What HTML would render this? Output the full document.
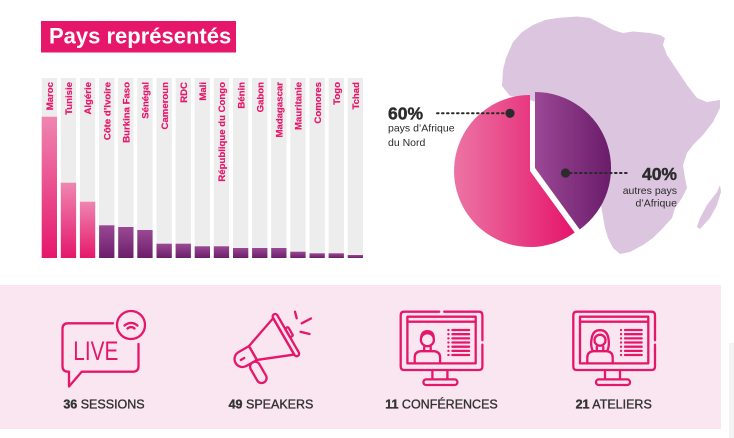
<!DOCTYPE html>
<html><head><meta charset="utf-8"><style>
html,body{margin:0;padding:0;background:#fff;}
svg{display:block;}
text{font-family:"Liberation Sans",sans-serif;}
</style></head><body>
<svg width="734" height="438" viewBox="0 0 734 438" xmlns="http://www.w3.org/2000/svg">
<defs>
<linearGradient id="gp" x1="0" y1="0" x2="0" y2="1"><stop offset="0" stop-color="#ef86b1"/><stop offset="1" stop-color="#e5176b"/></linearGradient>
<linearGradient id="gv" x1="0" y1="0" x2="0" y2="1"><stop offset="0" stop-color="#9a4894"/><stop offset="1" stop-color="#6c1e6a"/></linearGradient>
<linearGradient id="pk" x1="0" y1="0" x2="1" y2="0"><stop offset="0" stop-color="#ec74a4"/><stop offset="1" stop-color="#e5156b"/></linearGradient>
<linearGradient id="pu" x1="0" y1="0" x2="1" y2="0"><stop offset="0" stop-color="#9b4896"/><stop offset="1" stop-color="#6a1c69"/></linearGradient>
</defs>

<!-- Title -->
<rect x="41" y="21" width="195" height="31.5" fill="#e6176b"/>
<text x="49" y="43.5" font-size="22" font-weight="bold" fill="#fff">Pays représentés</text>

<!-- Bar chart -->
<g fill="#ededed">
<rect x="41.7" y="78" width="15.3" height="180"/><rect x="60.8" y="78" width="15.3" height="180"/><rect x="79.9" y="78" width="15.3" height="180"/><rect x="99.1" y="78" width="15.3" height="180"/><rect x="118.2" y="78" width="15.3" height="180"/><rect x="137.3" y="78" width="15.3" height="180"/><rect x="156.5" y="78" width="15.3" height="180"/><rect x="175.6" y="78" width="15.3" height="180"/><rect x="194.7" y="78" width="15.3" height="180"/><rect x="213.8" y="78" width="15.3" height="180"/><rect x="233" y="78" width="15.3" height="180"/><rect x="252.1" y="78" width="15.3" height="180"/><rect x="271.2" y="78" width="15.3" height="180"/><rect x="290.3" y="78" width="15.3" height="180"/><rect x="309.5" y="78" width="15.3" height="180"/><rect x="328.6" y="78" width="15.3" height="180"/><rect x="347.7" y="78" width="15.3" height="180"/>
</g>
<rect x="41.7" y="116.7" width="15.3" height="141.3" fill="url(#gp)"/>
<rect x="60.8" y="182.7" width="15.3" height="75.3" fill="url(#gp)"/>
<rect x="79.9" y="201.7" width="15.3" height="56.3" fill="url(#gp)"/>
<rect x="99.1" y="225.3" width="15.3" height="32.7" fill="url(#gv)"/>
<rect x="118.2" y="227" width="15.3" height="31" fill="url(#gv)"/>
<rect x="137.3" y="230" width="15.3" height="28" fill="url(#gv)"/>
<rect x="156.5" y="243.7" width="15.3" height="14.3" fill="url(#gv)"/>
<rect x="175.6" y="243.7" width="15.3" height="14.3" fill="url(#gv)"/>
<rect x="194.7" y="246.3" width="15.3" height="11.7" fill="url(#gv)"/>
<rect x="213.8" y="246.3" width="15.3" height="11.7" fill="url(#gv)"/>
<rect x="233" y="248" width="15.3" height="10" fill="url(#gv)"/>
<rect x="252.1" y="248" width="15.3" height="10" fill="url(#gv)"/>
<rect x="271.2" y="248" width="15.3" height="10" fill="url(#gv)"/>
<rect x="290.3" y="251.7" width="15.3" height="6.3" fill="url(#gv)"/>
<rect x="309.5" y="253.3" width="15.3" height="4.7" fill="url(#gv)"/>
<rect x="328.6" y="253.3" width="15.3" height="4.7" fill="url(#gv)"/>
<rect x="347.7" y="255" width="15.3" height="3" fill="url(#gv)"/>

<g font-size="9.6" font-weight="bold" fill="#e5176a" text-anchor="end" stroke="#e5176a" stroke-width="0.2">
<text transform="translate(53,82) rotate(-90)">Maroc</text>
<text transform="translate(72.1,82) rotate(-90)">Tunisie</text>
<text transform="translate(91.2,82) rotate(-90)">Algérie</text>
<text transform="translate(110.4,82) rotate(-90)">Côte d’Ivoire</text>
<text transform="translate(129.5,82) rotate(-90)">Burkina Faso</text>
<text transform="translate(148.6,82) rotate(-90)">Sénégal</text>
<text transform="translate(167.8,82) rotate(-90)">Cameroun</text>
<text transform="translate(186.9,82) rotate(-90)">RDC</text>
<text transform="translate(206,82) rotate(-90)">Mali</text>
<text transform="translate(225.1,82) rotate(-90)">République du Congo</text>
<text transform="translate(244.3,82) rotate(-90)">Bénin</text>
<text transform="translate(263.4,82) rotate(-90)">Gabon</text>
<text transform="translate(282.5,82) rotate(-90)">Madagascar</text>
<text transform="translate(301.6,82) rotate(-90)">Mauritanie</text>
<text transform="translate(320.8,82) rotate(-90)">Comores</text>
<text transform="translate(339.9,82) rotate(-90)">Togo</text>
<text transform="translate(359,82) rotate(-90)">Tchad</text>
</g>

<!-- Africa map -->
<path d="M533,25 L545,20 L557,18 L577,16.5 L590,18 L600,23 L613,30 L623,33 L633,31.5 L650,33 L660,35 L665,38 L663,45 L667,55 L677,70 L687,85 L697,98 L707,102 L720,100 L720,108 L713,122 L703,135 L693,145 L687,153 L683,165 L685,178 L687,188 L682,198 L675,208 L672,218 L663,228 L653,238 L643,245 L630,252 L620,254 L613,248 L608,238 L605,228 L600,200 L592,160 L580,130 L560,110 L530,100 L510,96 L502,86 L503,70 L506,58 L513,42 L522,32 Z" fill="#dcc5de"/>
<path d="M720,185 L717,192 L707,205 L700,218 L697,227 L700,229 L710,218 L717,205 L721,192 Z" fill="#dcc5de"/>

<!-- Pie -->
<path d="M530,171 L530,95 A76,76 0 1 0 574.7,232.5 Z" fill="url(#pk)"/>
<path d="M535,168 L535,92 A76,76 0 0 1 579.7,229.5 Z" fill="url(#pu)"/>

<!-- pie labels -->
<g fill="#2b2b2b">
<line x1="437" y1="113.3" x2="506" y2="113.3" stroke="#2b2b2b" stroke-width="2" stroke-dasharray="1.6 3.4" stroke-linecap="round"/>
<circle cx="510" cy="113.3" r="4.6"/>
<text x="388" y="119.5" font-size="17.5" font-weight="bold" stroke="#2b2b2b" stroke-width="0.4">60%</text>
<text x="388" y="131.5" font-size="10.5">pays d’Afrique</text>
<text x="388" y="146" font-size="10.5">du Nord</text>
<line x1="570" y1="173" x2="627" y2="173" stroke="#2b2b2b" stroke-width="2" stroke-dasharray="1.6 3.4" stroke-linecap="round"/>
<circle cx="565.5" cy="173" r="4.6"/>
<text x="677" y="180" font-size="17.5" font-weight="bold" text-anchor="end" stroke="#2b2b2b" stroke-width="0.4">40%</text>
<text x="677" y="194" font-size="10.5" text-anchor="end">autres pays</text>
<text x="677" y="206.5" font-size="10.5" text-anchor="end">d’Afrique</text>
</g>

<!-- Bottom band -->
<rect x="0" y="285" width="721" height="144" fill="#fae6f0"/>
<rect x="729" y="343" width="5" height="95" fill="#f3f3f3"/>

<g fill="none" stroke="#e5176b" stroke-width="2.3" stroke-linecap="round" stroke-linejoin="round">
<!-- LIVE -->
<path d="M113,323.3 H68 Q62.5,323.3 62.5,329 V366 Q62.5,371.7 68,371.7 H69 V386.5 L81.7,371.7 H133 Q138.5,371.7 138.5,366 V344"/>
<circle cx="131" cy="325" r="14"/>
<path d="M127.5,328.5 A5,5 0 0 1 134.5,328.5 M124.6,325.6 A9,9 0 0 1 137.4,325.6"/>

<!-- Megaphone -->
<g transform="translate(246,357) rotate(-30)">
<path d="M8,-8 H-4 A8,8 0 0 0 -4,8 H8 Z"/>
<path d="M8,-8 L43,-20 V22 L8,8 Z"/>
<rect x="43" y="-23" width="5" height="48" rx="2.5"/>
<rect x="48" y="-5" width="3.5" height="10" rx="1"/>
<rect x="-2" y="8" width="10" height="23" rx="5"/>
<path d="M-6,0 H-2"/>
</g>
<path d="M295,311.7 L296.7,318.3 M301.7,323.3 L311,318.5 M300.5,331.8 L309.5,334"/>

<!-- Monitor 1 (man) -->
<g transform="translate(400.7,311.7)">
<path d="M38.5,0 H3.5 Q0,0 0,3.5 V54.8 Q0,58.3 3.5,58.3 H78.2 Q81.7,58.3 81.7,54.8 V33 M81.7,28.5 V3.5 Q81.7,0 78.2,0 H43.5"/>
<rect x="6.7" y="5" width="68.3" height="46.7"/>
<path d="M6.7,10 H75"/>
<path d="M31.7,58.3 V67.7 M46.7,58.3 V67.7"/>
<rect x="22.7" y="67.7" width="34" height="5.6" rx="2.8"/>
<circle cx="26.7" cy="28" r="6.5"/>
<path d="M20.5,26 Q21,19.5 26.7,19.5 Q32.5,19.5 33,26"/>
<path d="M14,51.7 V46 Q14,40 20,39.5 H33.4 Q39.4,40 39.4,46 V51.7 M23.5,35 V39.5 M30,35 V39.5"/>
<path d="M47.7,18.3 h0.1 M51.7,18.3 H68.4 M47.7,22.5 h0.1 M51.7,22.5 H68.4 M47.7,26.7 h0.1 M51.7,26.7 H68.4 M47.7,30.8 h0.1 M51.7,30.8 H68.4 M47.7,35 h0.1 M51.7,35 H68.4 M47.7,39.2 h0.1 M51.7,39.2 H68.4 M47.7,43.3 h0.1 M51.7,43.3 H68.4"/>
</g>

<!-- Monitor 2 (woman) -->
<g transform="translate(573.3,311.7)">
<path d="M81.7,28.5 V3.5 Q81.7,0 78.2,0 H3.5 Q0,0 0,3.5 V54.8 Q0,58.3 3.5,58.3 H78.2 Q81.7,58.3 81.7,54.8 V33"/>
<rect x="6.7" y="5" width="68.3" height="46.7"/>
<path d="M6.7,10 H75"/>
<path d="M31.7,58.3 V67.7 M46.7,58.3 V67.7"/>
<rect x="22.7" y="67.7" width="34" height="5.6" rx="2.8"/>
<circle cx="26.7" cy="28.5" r="5.5"/>
<path d="M19,38 Q17,33 18.5,26 Q20,18.5 26.7,18.5 Q33.4,18.5 35,26 Q36.4,33 34.4,38"/>
<path d="M14,51.7 V46 Q14,40 20,39.5 H33.4 Q39.4,40 39.4,46 V51.7 M23.5,35 V39.5 M30,35 V39.5"/>
<path d="M47.7,18.3 h0.1 M51.7,18.3 H68.4 M47.7,22.5 h0.1 M51.7,22.5 H68.4 M47.7,26.7 h0.1 M51.7,26.7 H68.4 M47.7,30.8 h0.1 M51.7,30.8 H68.4 M47.7,35 h0.1 M51.7,35 H68.4 M47.7,39.2 h0.1 M51.7,39.2 H68.4 M47.7,43.3 h0.1 M51.7,43.3 H68.4"/>
</g>
</g>

<text x="73.3" y="360" font-size="27" fill="#e5176b" textLength="45" lengthAdjust="spacingAndGlyphs">LIVE</text>

<g font-size="12.5" fill="#333" text-anchor="middle" stroke="#333" stroke-width="0.35">
<text x="104" y="408.5"><tspan font-weight="bold">36</tspan> SESSIONS</text>
<text x="271" y="408.5"><tspan font-weight="bold">49</tspan> SPEAKERS</text>
<text x="441.5" y="408.5"><tspan font-weight="bold">11</tspan> CONFÉRENCES</text>
<text x="613.7" y="408.5"><tspan font-weight="bold">21</tspan> ATELIERS</text>
</g>
</svg>
</body></html>
